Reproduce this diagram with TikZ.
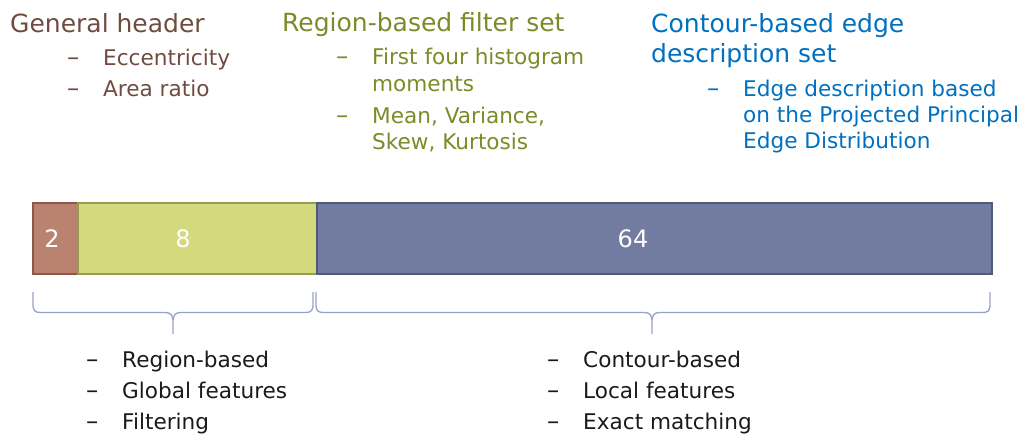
\documentclass[tikz,border=0pt]{standalone}
\usepackage{fontspec}
\setmainfont{DejaVu Sans}
\definecolor{hdrbrown}{RGB}{112,76,64}
\definecolor{hdrgreen}{RGB}{125,138,40}
\definecolor{hdrblue}{RGB}{0,112,192}
\definecolor{boxbrownfill}{RGB}{185,131,112}
\definecolor{boxbrowndraw}{RGB}{140,88,74}
\definecolor{boxgreenfill}{RGB}{212,217,125}
\definecolor{boxgreendraw}{RGB}{150,158,78}
\definecolor{boxbluefill}{RGB}{114,123,160}
\definecolor{boxbluedraw}{RGB}{82,90,122}
\definecolor{bracecol}{RGB}{152,162,200}
\definecolor{bodytext}{RGB}{26,26,26}
\begin{document}
\begin{tikzpicture}[x=1pt,y=-1pt,
  heading/.style={anchor=base west,inner sep=0pt,font=\fontsize{25}{30}\selectfont},
  item/.style={anchor=base west,inner sep=0pt,font=\fontsize{21.6}{26}\selectfont},
  bulletdash/.style={anchor=base west,inner sep=0pt,font=\fontsize{24.5}{26}\selectfont},
  segment/.style={anchor=north west,inner sep=0pt,line width=2.4pt,minimum height=71pt},
  count/.style={anchor=base,inner sep=0pt,text=white,font=\fontsize{24}{28}\selectfont},
  bracestyle/.style={draw=bracecol,line width=1.3pt,line join=round}]
\useasboundingbox (0,0) rectangle (1029,436);

% header texts
\begin{scope}[every node/.append style={text=hdrbrown}]
  \node[heading] (gh) at (10,33) {General header};
  \node[bulletdash] (gh1d) at (67,66) {–};
  \node[item] (gh1) at (103,66) {Eccentricity};
  \node[bulletdash] (gh2d) at (67,97) {–};
  \node[item] (gh2) at (103,97) {Area ratio};
\end{scope}
\begin{scope}[every node/.append style={text=hdrgreen}]
  \node[heading] (rf) at (282,32) {Region-based filter set};
  \node[bulletdash] (rf1d) at (336,65) {–};
  \node[item] (rf1a) at (372,65) {First four histogram};
  \node[item] (rf1b) at (372,91.5) {moments};
  \node[bulletdash] (rf2d) at (336,123) {–};
  \node[item] (rf2a) at (372,123) {Mean, Variance,};
  \node[item] (rf2b) at (372,149) {Skew, Kurtosis};
\end{scope}
\begin{scope}[every node/.append style={text=hdrblue}]
  \node[heading] (cb1) at (651,33) {Contour-based edge};
  \node[heading] (cb2) at (651,63) {description set};
  \node[bulletdash] (cbd) at (707,97) {–};
  \node[item] (cba) at (743,97) {Edge description based};
  \node[item] (cbb) at (743,122) {on the Projected Principal};
  \node[item] (cbc) at (743,148) {Edge Distribution};
\end{scope}

% descriptor bar
\node[segment,fill=boxbrownfill,draw=boxbrowndraw,minimum width=45.5pt] (s2) at (31.5,202) {};
\node[segment,fill=boxgreenfill,draw=boxgreendraw,minimum width=239pt] (s8) at (77,202) {};
\node[segment,fill=boxbluefill,draw=boxbluedraw,minimum width=674.5pt] (s64) at (316,202) {};
\node[count] (n2) at (52,247) {2};
\node[count] (n8) at (183,247) {8};
\node[count] (n64) at (633,247) {64};

% braces under the bar
\draw[bracestyle] (33,292) -- (33,304) .. controls (33,311) and (35,312.5) .. (41,312.5)
  -- (165,312.5) .. controls (171,312.5) and (173,315) .. (173,322) -- (173,334)
  (173,322) .. controls (173,315) and (175,312.5) .. (181,312.5)
  -- (305,312.5) .. controls (311,312.5) and (313,311) .. (313,304) -- (313,292);
\draw[bracestyle] (316,292) -- (316,304) .. controls (316,311) and (318,312.5) .. (324,312.5)
  -- (644,312.5) .. controls (650,312.5) and (652,315) .. (652,322) -- (652,334)
  (652,322) .. controls (652,315) and (654,312.5) .. (660,312.5)
  -- (982,312.5) .. controls (988,312.5) and (990,311) .. (990,304) -- (990,292);

% lower lists
\begin{scope}[every node/.append style={text=bodytext}]
  \node[bulletdash] (l1d) at (86,367.5) {–};
  \node[item] (l1) at (122,367.5) {Region-based};
  \node[bulletdash] (l2d) at (86,398.5) {–};
  \node[item] (l2) at (122,398.5) {Global features};
  \node[bulletdash] (l3d) at (86,429.5) {–};
  \node[item] (l3) at (122,429.5) {Filtering};
  \node[bulletdash] (r1d) at (547,367.5) {–};
  \node[item] (r1) at (583,367.5) {Contour-based};
  \node[bulletdash] (r2d) at (547,398.5) {–};
  \node[item] (r2) at (583,398.5) {Local features};
  \node[bulletdash] (r3d) at (547,429.5) {–};
  \node[item] (r3) at (583,429.5) {Exact matching};
\end{scope}
\end{tikzpicture}
\end{document}
